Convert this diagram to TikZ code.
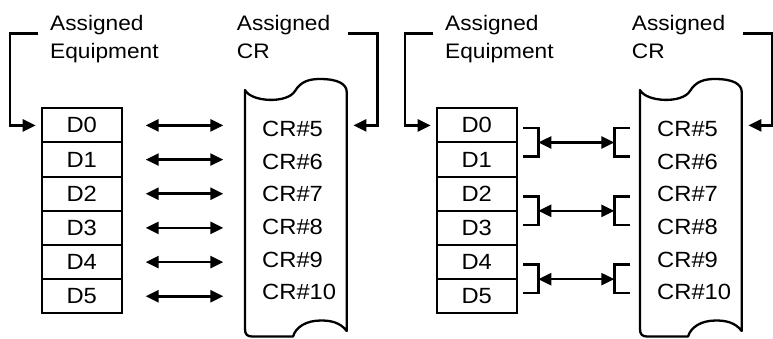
\documentclass[tikz,border=0pt]{standalone}
\usepackage{fontspec}
\setmainfont[FakeStretch=1.08]{Liberation Sans}
\usetikzlibrary{arrows.meta,calc}
\tikzset{
  lw/.style={line width=2.3pt},
  dbox/.style={draw,line width=2pt,outer sep=0pt,minimum width=80pt,minimum height=34.17pt,inner sep=0pt,font=\fontsize{22}{25}\selectfont},
  lbl/.style={anchor=base west,inner sep=0pt,font=\fontsize{21}{25}\selectfont},
  crl/.style={anchor=base west,inner sep=0pt,font=\fontsize{22}{25}\selectfont},
  tipx/.style={line width=2.6pt,{Triangle[length=13pt,width=12pt]}-{Triangle[length=13pt,width=12pt]}},
  tipone/.style={line width=2.6pt,-{Triangle[length=13pt,width=12pt]}},
  conn/.style={line width=2.6pt}
}
\newcommand\drawpanel[1]{%
  \node[lbl] (#1as) at (50,30.7) {Assigned};
  \node[lbl] (#1eq) at (50,58.3) {Equipment};
  \node[lbl] (#1ac) at (236.7,30.7) {Assigned};
  \node[lbl] (#1cr) at (236.7,58.3) {CR};
  \node[dbox] (#1d0) at (81.7,125.4) {D0};
  \node[dbox,anchor=north] (#1d1) at (#1d0.south) {D1};
  \node[dbox,anchor=north] (#1d2) at (#1d1.south) {D2};
  \node[dbox,anchor=north] (#1d3) at (#1d2.south) {D3};
  \node[dbox,anchor=north] (#1d4) at (#1d3.south) {D4};
  \node[dbox,anchor=north] (#1d5) at (#1d4.south) {D5};
  \coordinate (#1sw) at (245,200);
  \coordinate (#1se) at (346.7,200);
  \draw[lw,line join=round] (245,90) .. controls (251,102) and (287,104) .. (295,91)
     .. controls (301,81) and (310,79) .. (320,79)
     .. controls (338,79) and (346.7,84) .. (346.7,92) -- (346.7,331)
     .. controls (340,322) and (330,320.5) .. (321,320.5)
     .. controls (306,320.5) and (296,327) .. (293,336.5) -- (252,336.5)
     .. controls (247,336.5) and (245,334) .. (245,329) -- cycle;
  \node[crl] (#1c5) at (262,136) {CR\#5};
  \node[crl] (#1c6) at (262,169) {CR\#6};
  \node[crl] (#1c7) at (262,201.7) {CR\#7};
  \node[crl] (#1c8) at (262,234.7) {CR\#8};
  \node[crl] (#1c9) at (262,267) {CR\#9};
  \node[crl] (#1c10) at (262,299.5) {CR\#10};
  \coordinate (#1lt) at (38.3,33.3);
  \coordinate (#1rt) at (348.3,33.3);
  \draw[tipone] (#1lt) -| ($(#1d0.west)+(-31.7,0)$) -- ($(#1d0.west)+(-6,0)$);
  \draw[tipone] (#1rt) -| ($(#1d0.center -| #1se)+(30.5,0)$) -- ($(#1d0.center -| #1se)+(6.7,0)$);
}
\begin{document}
\begin{tikzpicture}[x=1pt,y=-1pt]
\useasboundingbox (0,0) rectangle (773,338);
\begin{scope}
  \drawpanel{a}
  \foreach \i in {0,...,5}{
    \draw[tipx] ($(ad\i.east)+(24,0)$) -- ($(ad\i.east -| asw)+(-21.7,0)$);
  }
\end{scope}
\begin{scope}[xshift=395pt]
  \drawpanel{b}
  \foreach \k in {0,2,4}{
    \coordinate (bb\k) at (bd\k.south east);
    \coordinate (bs\k) at (bd\k.south east -| bsw);
    \draw[conn] ($(bb\k)+(6.6,-14.5)$) -- ($(bb\k)+(21.6,-14.5)$) -- ($(bb\k)+(21.6,14)$) -- ($(bb\k)+(6.6,14)$);
    \draw[conn] ($(bs\k)+(-10,-14.5)$) -- ($(bs\k)+(-25.7,-14.5)$) -- ($(bs\k)+(-25.7,14)$) -- ($(bs\k)+(-10,14)$);
    \draw[tipx] ($(bb\k)+(21.6,0)$) -- ($(bs\k)+(-25.7,0)$);
  }
\end{scope}
\end{tikzpicture}
\end{document}
